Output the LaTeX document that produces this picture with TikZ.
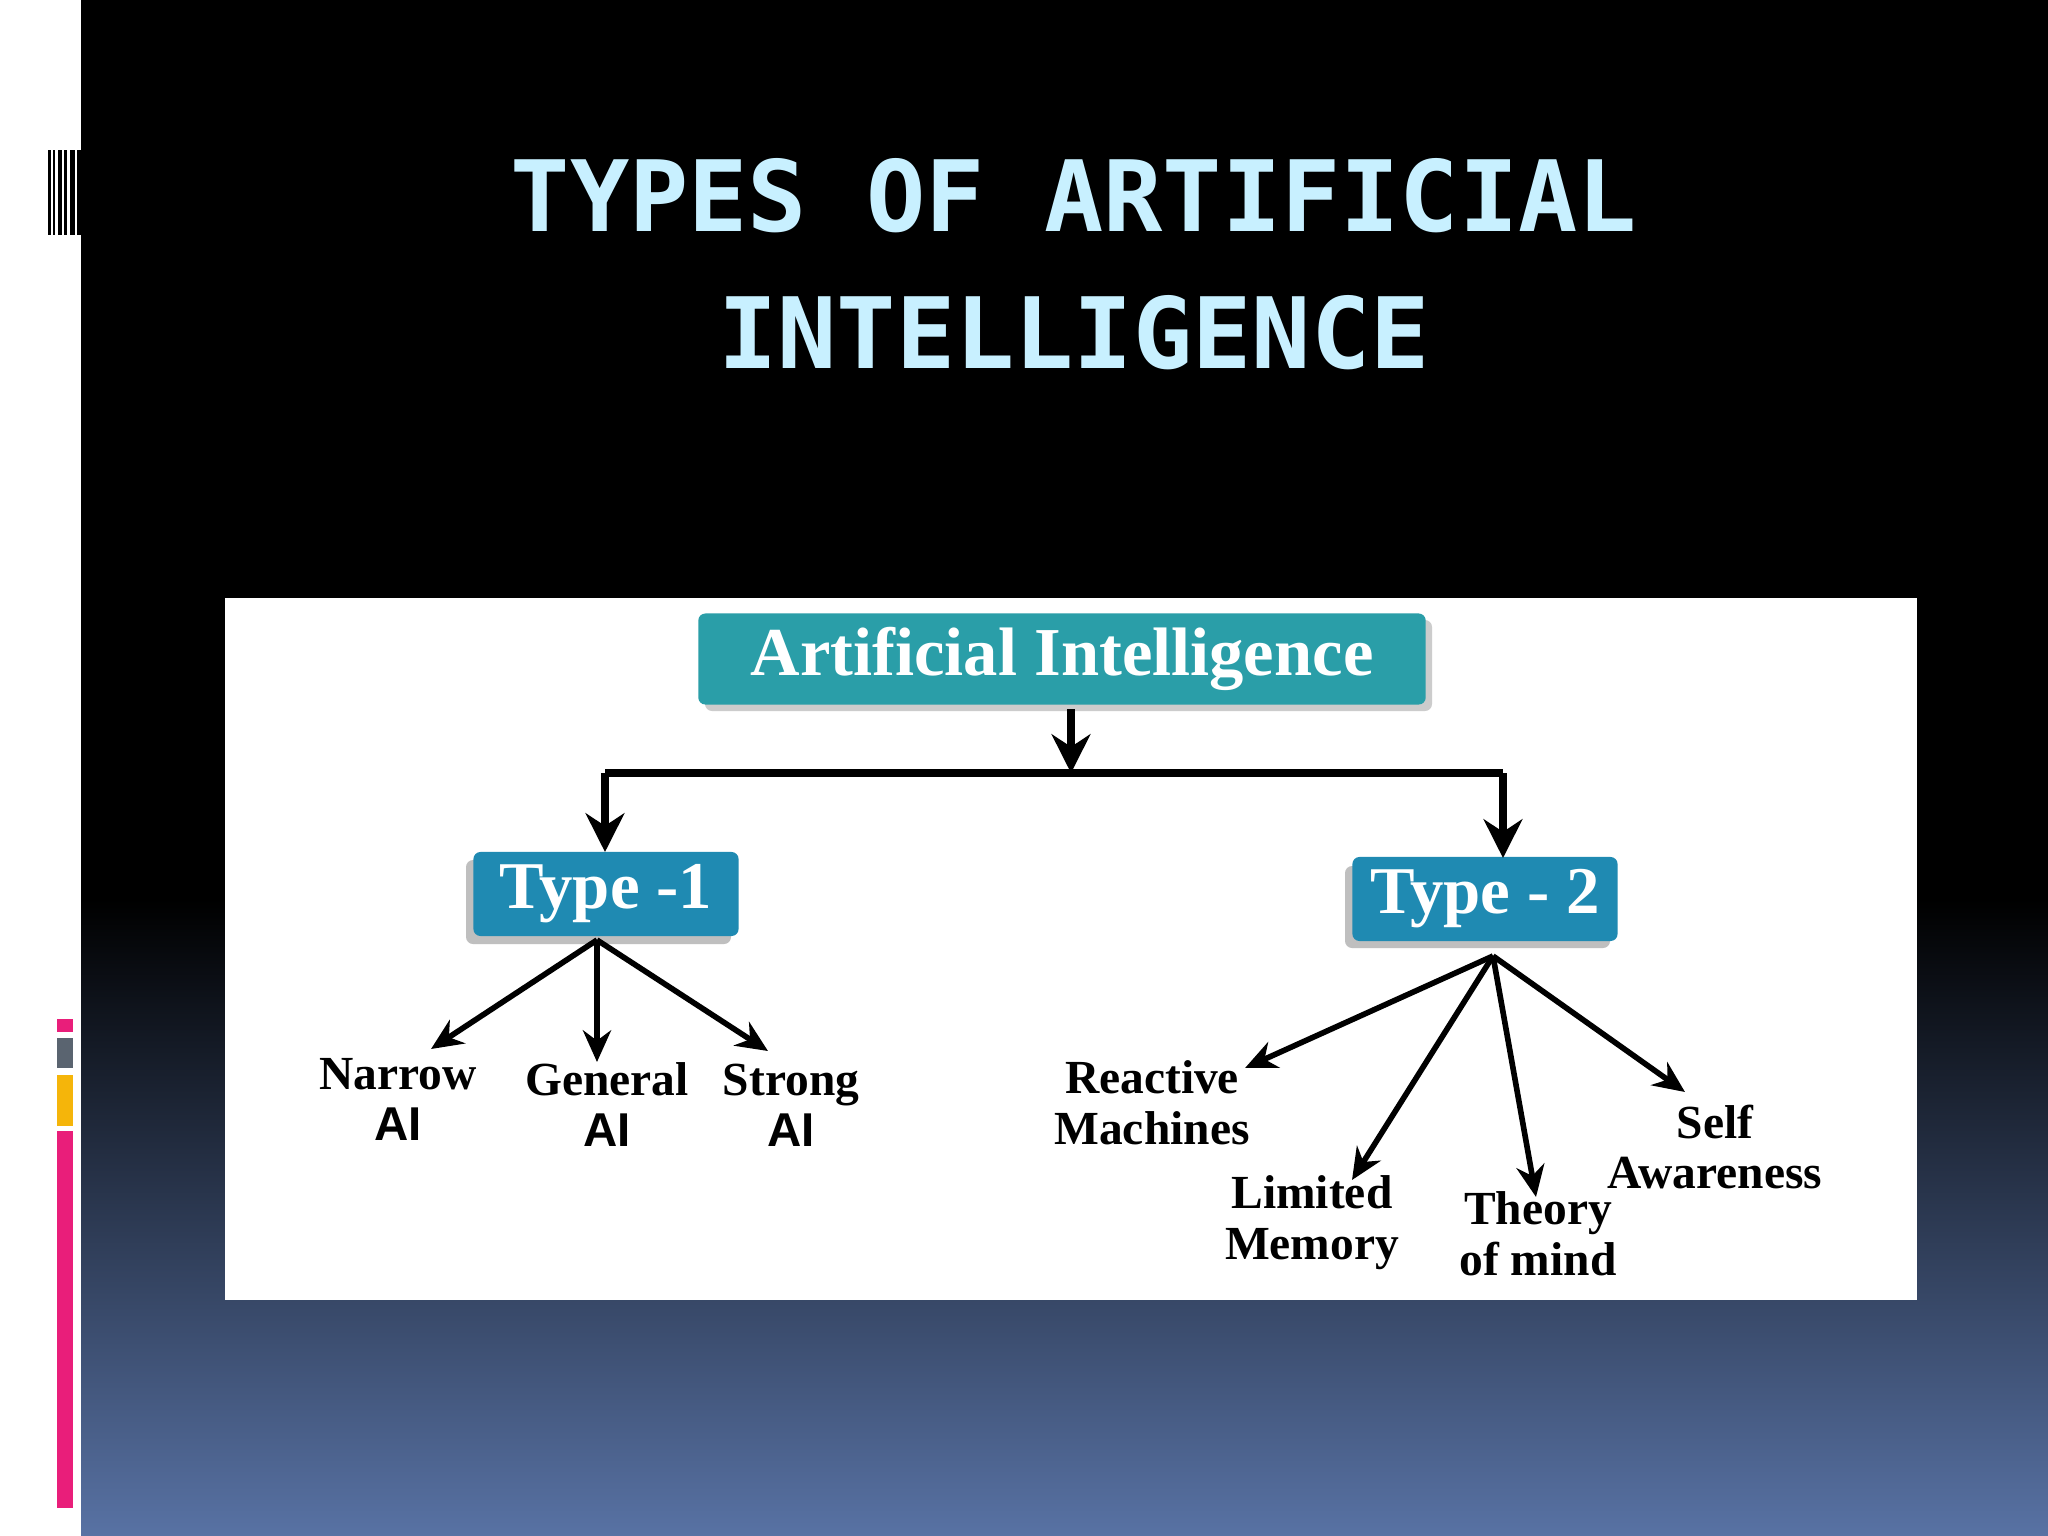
\documentclass[tikz,border=0pt]{standalone}
\usepackage{fontspec}
\setmainfont{Liberation Serif}
\newfontfamily\monof{DejaVu Sans Mono}
\newfontfamily\sansf{Liberation Sans}
\usetikzlibrary{arrows.meta}
\definecolor{titlec}{HTML}{C8F0FF}
\definecolor{tealc}{HTML}{2A9EA8}
\definecolor{bluec}{HTML}{1F8AB2}
\definecolor{botc}{HTML}{5872A4}
\definecolor{pinkc}{HTML}{E91E7A}
\definecolor{grayc}{HTML}{5A6470}
\definecolor{orangec}{HTML}{F5B50A}
\tikzset{
  boxA/.style={fill=tealc,text=white,font=\bfseries\fontsize{19.5}{22}\selectfont,minimum width=7.27cm,minimum height=0.91cm,rounded corners=2pt,inner sep=0pt},
  boxT/.style={fill=bluec,text=white,font=\bfseries\fontsize{19}{22}\selectfont,minimum width=2.65cm,minimum height=0.84cm,rounded corners=2pt,inner sep=0pt},
  lab/.style={font=\bfseries\fontsize{13.5}{14.5}\selectfont,align=center,inner sep=0pt,text=black},
  con/.style={line width=1.6pt,-{Stealth[length=9pt,width=8pt]}},
}
\begin{document}
\begin{tikzpicture}[x=0.01cm,y=-0.01cm]
\useasboundingbox (0,0) rectangle (2048,1536);
\fill[white] (0,0) rectangle (81,1536);
\fill[black] (81,0) rectangle (2048,900);
\shade[top color=black,bottom color=botc] (81,899) rectangle (2048,1536);
% barcode
\foreach \x/\w in {48/3,53/2,58/4,64/3,70/5,77/4}{\fill[black] (\x,150) rectangle ++(\w,85);}
% left bars
\fill[pinkc] (57,1019) rectangle (73,1032);
\fill[grayc] (57,1038) rectangle (73,1068);
\fill[orangec] (57,1075) rectangle (73,1126);
\fill[pinkc] (57,1131) rectangle (73,1508);
% title
\node[text=titlec,font=\monof\bfseries\fontsize{28}{34}\selectfont] (t1) at (1074,196) {TYPES OF ARTIFICIAL};
\node[text=titlec,font=\monof\bfseries\fontsize{28}{34}\selectfont] (t2) at (1074,333) {INTELLIGENCE};
% panel
\fill[white] (225,598) rectangle (1917,1300);
% boxes
\fill[gray!40,rounded corners=2pt] (705,620) rectangle (1432,711);
\node[boxA] (ai) at (1062,659) {Artificial Intelligence};
\fill[gray!50,rounded corners=2pt] (466,860) rectangle (731,944);
\node[boxT] (ty1) at (606,894) {Type -1};
\fill[gray!50,rounded corners=2pt] (1345,866) rectangle (1610,948);
\node[boxT] (ty2) at (1485,899) {Type - 2};
\coordinate (j) at (1071,773);
\coordinate (l) at (605,773);
\coordinate (r) at (1503,773);
\draw[line width=2.4pt,-{Stealth[length=11pt,width=11pt]}] (1071,709) -- (j);
\draw[line width=2.4pt] (l) -- (r);
\draw[line width=2.4pt,-{Stealth[length=11pt,width=11pt]}] (l) -- (605,852);
\draw[line width=2.4pt,-{Stealth[length=11pt,width=11pt]}] (r) -- (1503,858);
% type 1 children
\coordinate (o1) at (597,940);
\coordinate (o2) at (1493,956);
\node[lab] (na) at (398,1099) {Narrow\\{\sansf AI}};
\node[lab] (ga) at (607,1105) {General\\{\sansf AI}};
\node[lab] (sa) at (791,1105) {Strong\\{\sansf AI}};
\draw[con] (o1) -- (431,1049);
\draw[con] (o1) -- (597,1062);
\draw[con] (o1) -- (768,1051);
% type 2 children
\node[lab] (rm) at (1152,1103) {Reactive\\Machines};
\node[lab] (lm) at (1312,1223) {Limited\\Memory};
\node[lab] (tm) at (1538,1234) {Theory\\of mind};
\node[lab] (sw) at (1715,1147) {Self\\Awareness};
\draw[con] (o2) -- (1245,1068);
\draw[con] (o2) -- (1352,1180);
\draw[con] (o2) -- (1536,1197);
\draw[con] (o2) -- (1685,1092);
\end{tikzpicture}
\end{document}
